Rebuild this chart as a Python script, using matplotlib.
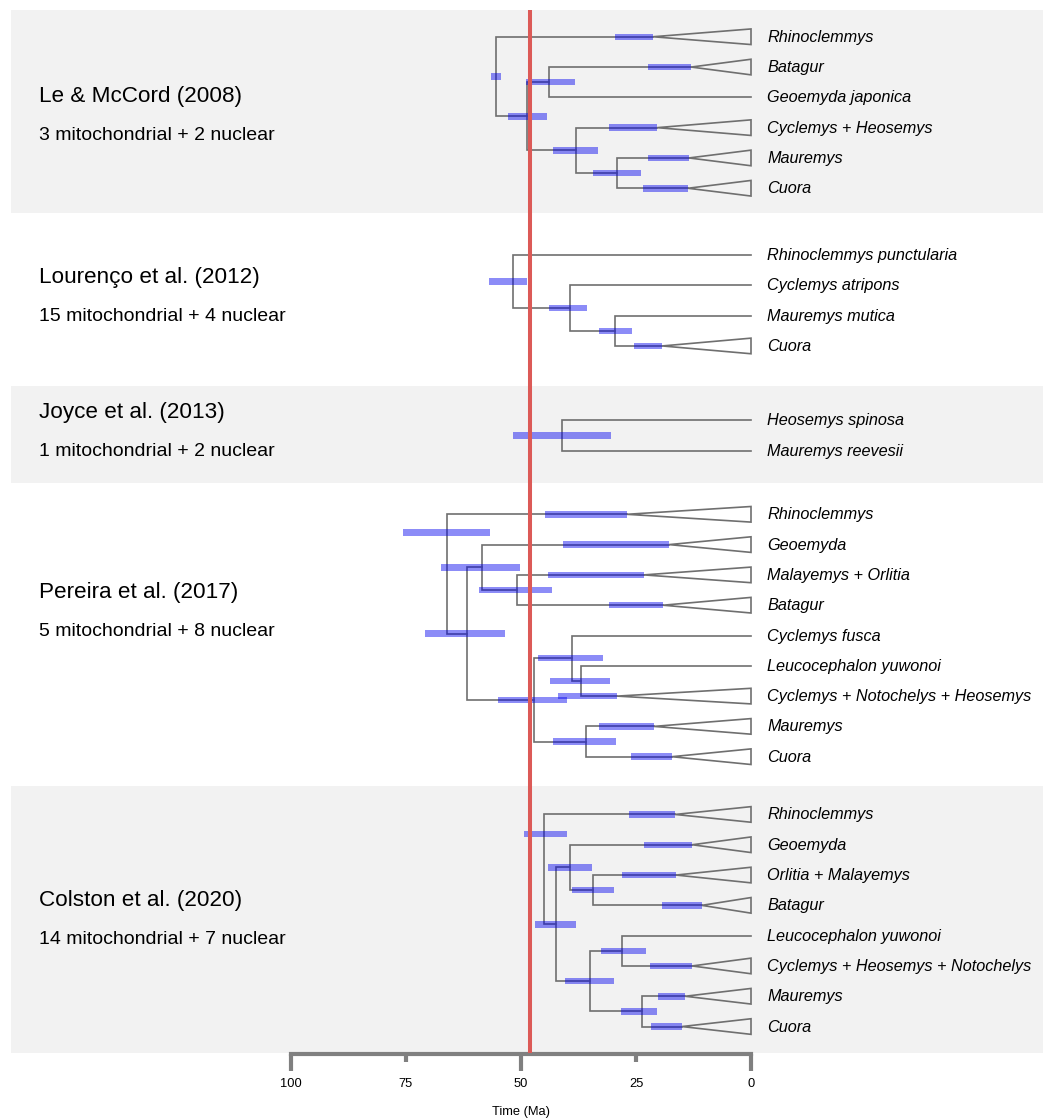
import matplotlib
matplotlib.use("Agg")
import matplotlib.pyplot as plt
from matplotlib.patches import Polygon, Rectangle

plt.rcParams['font.family'] = ['Liberation Sans', 'DejaVu Sans']

# ---------------- data (ages in Ma) ----------------
study_titles = ["Le & McCord (2008)", "Lourenço et al. (2012)", "Joyce et al. (2013)",
                "Pereira et al. (2017)", "Colston et al. (2020)"]
study_genes = ["3 mitochondrial + 2 nuclear", "15 mitochondrial + 4 nuclear",
               "1 mitochondrial + 2 nuclear", "5 mitochondrial + 8 nuclear",
               "14 mitochondrial + 7 nuclear"]

# Le & McCord (2008)
le_tips = ["Rhinoclemmys", "Batagur", "Geoemyda japonica", "Cyclemys + Heosemys",
           "Mauremys", "Cuora"]
le_tree = (0, ((1, 2), (3, (4, 5))))
le_node_age = [55.4, 48.7, 43.9, 38.0, 29.1]          # preorder
le_node_hpd = [(56.5, 54.3), (52.8, 44.3), (48.9, 38.3), (43.0, 33.3), (34.3, 23.9)]
le_crown_age = [21.3, 13.0, None, 20.4, 13.5, 13.7]   # None = single species
le_crown_hpd = [(29.6, 21.3), (22.4, 13.0), None, (30.9, 20.4), (22.4, 13.5), (23.5, 13.7)]

# Lourenço et al. (2012)
lo_tips = ["Rhinoclemmys punctularia", "Cyclemys atripons", "Mauremys mutica", "Cuora"]
lo_tree = (0, (1, (2, 3)))
lo_node_age = [51.8, 39.3, 29.6]
lo_node_hpd = [(57.0, 48.7), (43.9, 35.7), (33.0, 25.9)]
lo_crown_age = [None, None, None, 19.3]
lo_crown_hpd = [None, None, None, (25.4, 19.3)]

# Joyce et al. (2013)
jo_tips = ["Heosemys spinosa", "Mauremys reevesii"]
jo_tree = (0, 1)
jo_node_age = [41.1]
jo_node_hpd = [(51.7, 30.4)]
jo_crown_age = [None, None]
jo_crown_hpd = [None, None]

# Pereira et al. (2017)
pe_tips = ["Rhinoclemmys", "Geoemyda", "Malayemys + Orlitia", "Batagur", "Cyclemys fusca",
           "Leucocephalon yuwonoi", "Cyclemys + Notochelys + Heosemys", "Mauremys", "Cuora"]
pe_tree = (0, ((1, (2, 3)), ((4, (5, 6)), (7, 8))))
pe_node_age = [66.1, 61.7, 58.5, 50.9, 47.2, 38.9, 37.0, 35.9]
pe_node_hpd = [(75.7, 56.7), (70.9, 53.5), (67.4, 50.2), (59.1, 43.3), (55.0, 40.0),
               (46.3, 32.2), (43.7, 30.7), (43.0, 29.3)]
pe_crown_age = [27.0, 17.8, 23.3, 19.1, None, None, 29.1, 21.1, 17.2]
pe_crown_hpd = [(44.8, 27.0), (40.9, 17.8), (44.1, 23.3), (30.9, 19.1), None, None,
                (42.0, 29.1), (33.0, 21.1), (26.1, 17.2)]

# Colston et al. (2020)
co_tips = ["Rhinoclemmys", "Geoemyda", "Orlitia + Malayemys", "Batagur",
           "Leucocephalon yuwonoi", "Cyclemys + Heosemys + Notochelys", "Mauremys", "Cuora"]
co_tree = (0, ((1, (2, 3)), ((4, 5), (6, 7))))
co_node_age = [45.0, 42.4, 39.3, 34.3, 35.0, 28.0, 23.7]
co_node_hpd = [(49.3, 40.0), (47.0, 38.0), (44.1, 34.6), (38.9, 29.8), (40.4, 29.8),
               (32.6, 22.8), (28.3, 20.4)]
co_crown_age = [16.5, 12.8, 16.3, 10.7, None, 12.8, 14.3, 15.0]
co_crown_hpd = [(26.5, 16.5), (23.3, 12.8), (28.0, 16.3), (19.3, 10.7), None,
                (22.0, 12.8), (20.2, 14.3), (21.7, 15.0)]

highlight_age = 48.0
time_ticks = [100, 75, 50, 25, 0]

studies = [
    dict(tips=le_tips, tree=le_tree, node_age=le_node_age, node_hpd=le_node_hpd,
         crown_age=le_crown_age, crown_hpd=le_crown_hpd),
    dict(tips=lo_tips, tree=lo_tree, node_age=lo_node_age, node_hpd=lo_node_hpd,
         crown_age=lo_crown_age, crown_hpd=lo_crown_hpd),
    dict(tips=jo_tips, tree=jo_tree, node_age=jo_node_age, node_hpd=jo_node_hpd,
         crown_age=jo_crown_age, crown_hpd=jo_crown_hpd),
    dict(tips=pe_tips, tree=pe_tree, node_age=pe_node_age, node_hpd=pe_node_hpd,
         crown_age=pe_crown_age, crown_hpd=pe_crown_hpd),
    dict(tips=co_tips, tree=co_tree, node_age=co_node_age, node_hpd=co_node_hpd,
         crown_age=co_crown_age, crown_hpd=co_crown_hpd),
]

# ---------------- layout (pixel space vertically) ----------------
W, H = 1050, 1120
PX_PER_MA = 4.6
X_ZERO = 751
band_top = [10, 213, 386, 483, 786]
band_bottom = 1053
band_grey = [True, False, True, False, True]
title_offset = [92, 70, 32, 115, 120]
root_bar_row = [None, None, None, 0.6, 0.65]
ROW = 30.3
TRI = 7.8
BAR_H = 6.5

LINE_C = '#6f6f6f'
BAR_C = '#0000ee'
RED_C = '#dc5a57'


def age_at(px):
    return (X_ZERO - px) / PX_PER_MA


fig = plt.figure(figsize=(W / 100, H / 100), dpi=100)
ax = fig.add_axes([0, 0, 1, 1])
ax.set_xlim(age_at(0), age_at(W))
ax.set_ylim(H, 0)
ax.axis('off')


def draw_bar(y, hpd):
    old, young = hpd
    ax.barh(y, old - young, left=young, height=BAR_H, color=BAR_C, alpha=0.45,
            linewidth=0, zorder=3)


def draw_clade(node, st, it, tip_y, is_root=False, rb_row=None):
    if isinstance(node, int):
        y = tip_y[node]
        crown = st['crown_age'][node]
        if crown is None:
            return y, 0.0
        tri = Polygon([(crown, y), (0, y - TRI), (0, y + TRI)], closed=True,
                      facecolor='none', edgecolor=LINE_C, lw=1.2, zorder=2)
        ax.add_patch(tri)
        draw_bar(y, st['crown_hpd'][node])
        return y, crown
    k = next(it)
    age = st['node_age'][k]
    kids = [draw_clade(c, st, it, tip_y) for c in node]
    (y1, e1), (y2, e2) = kids
    y = (y1 + y2) / 2
    ax.plot([e1, age, age, e2], [y1, y1, y2, y2], color=LINE_C, lw=1.2,
            solid_joinstyle='miter', zorder=2)
    by = y
    if is_root and rb_row is not None:
        by = tip_y[0] + rb_row * ROW
    draw_bar(by, st['node_hpd'][k])
    return y, age


for i, st in enumerate(studies):
    top = band_top[i]
    bot = band_top[i + 1] if i + 1 < len(band_top) else band_bottom
    if band_grey[i]:
        ax.add_patch(Rectangle((age_at(11), top), age_at(1043) - age_at(11), bot - top,
                               facecolor='#f2f2f2', edgecolor='none', zorder=0))
    n = len(st['tips'])
    center = (top + bot) / 2 + 1
    tip_y = [center - (n - 1) / 2 * ROW + j * ROW for j in range(n)]
    draw_clade(st['tree'], st, iter(range(len(st['node_age']))), tip_y,
               is_root=True, rb_row=root_bar_row[i])
    for j, name in enumerate(st['tips']):
        ax.text(age_at(767), tip_y[j] + 0.5, name, fontsize=11.7, style='italic',
                va='center', ha='left')
    ty = top + title_offset[i]
    ax.text(age_at(39), ty, study_titles[i], fontsize=16.2, va='baseline', ha='left')
    ax.text(age_at(39), ty + 38, study_genes[i], fontsize=14, va='baseline', ha='left')

# highlight line
ax.plot([highlight_age, highlight_age], [band_top[0], band_bottom], color=RED_C,
        lw=2.9, solid_capstyle='butt', zorder=5)

# time axis
AX_Y = 1054
ax.plot([max(time_ticks), min(time_ticks)], [AX_Y, AX_Y], color='#808080', lw=3,
        solid_capstyle='projecting', zorder=4)
for t in time_ticks:
    length = 17 if t % 50 == 0 else 8
    ax.plot([t, t], [AX_Y, AX_Y + length], color='#808080', lw=3,
            solid_capstyle='butt', zorder=4)
    ax.text(t, 1084, str(t), fontsize=9.3, ha='center', va='center')
ax.text((max(time_ticks) + min(time_ticks)) / 2, 1112, "Time (Ma)", fontsize=9.3,
        ha='center', va='center')

fig.savefig("out.png", dpi=100)
